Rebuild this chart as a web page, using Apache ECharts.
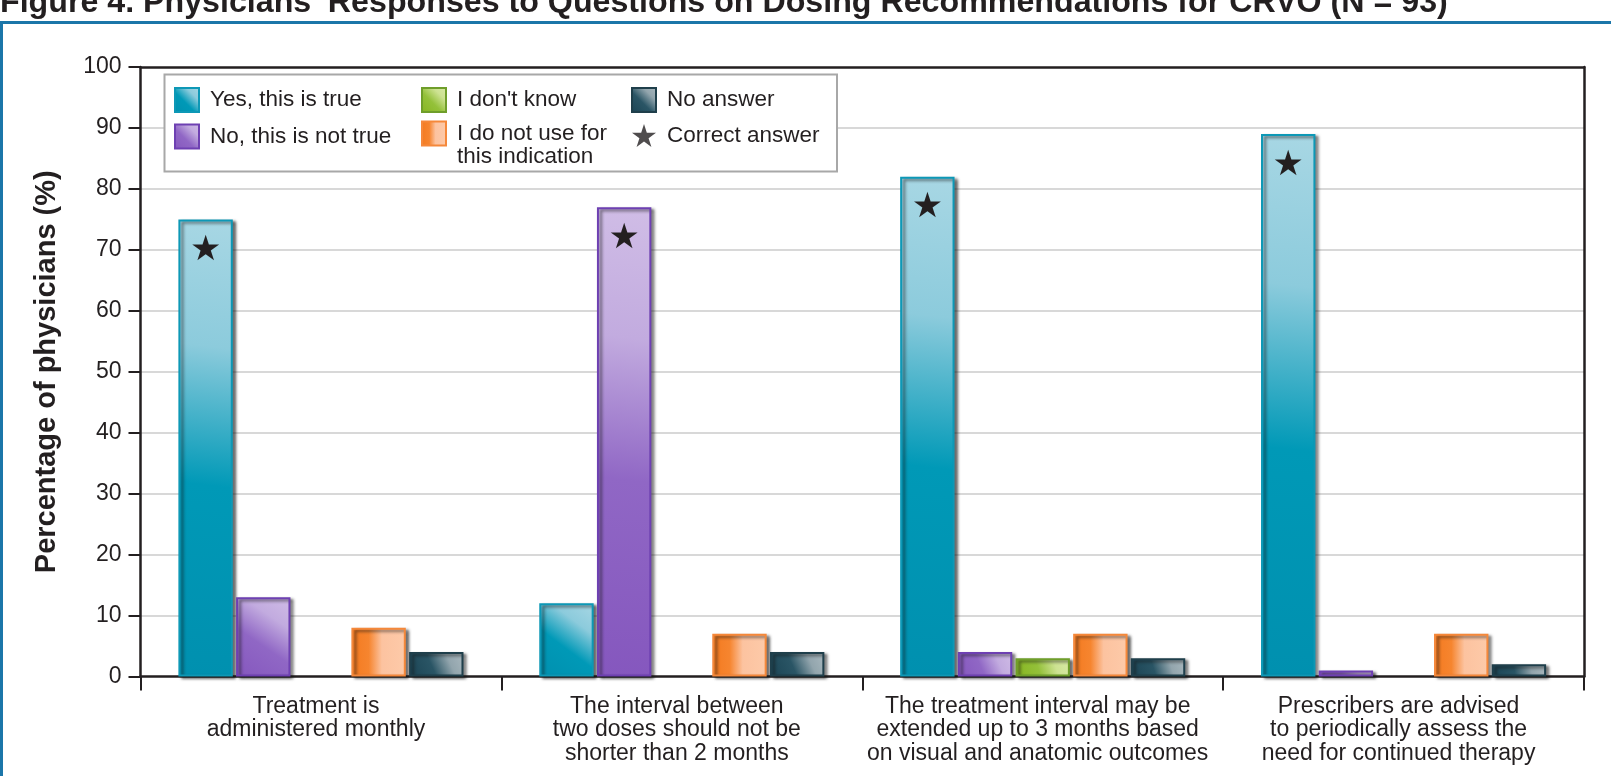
<!DOCTYPE html>
<html>
<head>
<meta charset="utf-8">
<title>Physicians' Responses to Questions on Dosing Recommendations for CRVO</title>
<script src="https://cdn.jsdelivr.net/npm/echarts@6/dist/echarts.min.js"></script>
<style>
  html, body { margin: 0; padding: 0; background: #ffffff; }
  #chart { width: 1611px; height: 776px; }
</style>
</head>
<body>
<div id="chart"></div>
<script>
// Survey statements (x categories)
const categories = [
  'Treatment is\nadministered monthly',
  'The interval between\ntwo doses should not be\nshorter than 2 months',
  'The treatment interval may be\nextended up to 3 months based\non visual and anatomic outcomes',
  'Prescribers are advised\nto periodically assess the\nneed for continued therapy'
];

// Percentage of physicians giving each response (null = no bar)
const yesTrue  = [75, 12, 82, 89];
const notTrue  = [13, 77, 4, 1];
const dontKnow = [null, null, 3, null];
const notUsed  = [8, 7, 7, 7];
const noAnswer = [4, 4, 3, 2];

// Which response is the correct one for each statement
const correctAnswer = ['yes', 'no', 'yes', 'yes'];

// Y axis ticks
const yTicks = { min: 0, max: 100, step: 10 };

const TEXT = '#231f20';
const FONT = '"Liberation Sans", Arial, Helvetica, sans-serif';
const STAR = 'path://M50 0 L61.2 34.5 L97.6 34.5 L68.2 55.9 L79.4 90.5 L50 69.1 L20.6 90.5 L31.8 55.9 L2.4 34.5 L38.8 34.5 Z';

function diag(c0, c1, c2, c3) {
  return new echarts.graphic.LinearGradient(0, 1, 1, 0, [
    { offset: 0, color: c0 }, { offset: 0.42, color: c1 },
    { offset: 0.72, color: c2 }, { offset: 1, color: c3 }
  ]);
}

const NOT_USED_NAME = 'I do not use for\nthis indication';

const responses = [
  { key: 'yes', name: 'Yes, this is true', values: yesTrue,
    fill: diag('#0090af', '#0099b7', '#8ccbdc', '#a8d7e4'), border: '#0d98b6' },
  { key: 'no', name: 'No, this is not true', values: notTrue,
    fill: diag('#8557be', '#9067c5', '#c2abdf', '#d0bde6'), border: '#6e40b2' },
  { key: 'dk', name: "I don't know", values: dontKnow,
    fill: diag('#86b520', '#94c13a', '#cde292', '#d9e9a6'), border: '#6f9e2a' },
  { key: 'nu', name: NOT_USED_NAME, values: notUsed,
    fill: new echarts.graphic.LinearGradient(0, 0, 1, 0, [
      { offset: 0, color: '#f47a20' }, { offset: 0.32, color: '#f6852f' },
      { offset: 0.56, color: '#fcc3a0' }, { offset: 1, color: '#fdcaa9' }
    ]), border: '#f5883a' },
  { key: 'na', name: 'No answer', values: noAnswer,
    fill: diag('#1b4454', '#2a5565', '#92a5ad', '#aab8be'), border: '#1f3f4b' }
];

const barSeries = responses.map(r => ({
  name: r.name,
  type: 'bar',
  barCategoryGap: '21%',
  barGap: '6%',
  itemStyle: {
    color: r.fill,
    borderColor: r.border,
    borderWidth: 2,
    shadowColor: 'rgba(20,20,20,0.6)',
    shadowBlur: 3,
    shadowOffsetX: 3,
    shadowOffsetY: 2
  },
  data: r.values.map((v, i) => ({
    value: v,
    label: {
      show: correctAnswer[i] === r.key,
      formatter: '\u2605',
      position: 'insideTop',
      distance: 14,
      color: TEXT,
      fontSize: 35,
      fontFamily: '"DejaVu Sans", sans-serif'
    }
  }))
}));

// Legend-only entry for the star marker
const starSeries = {
  name: 'Correct answer',
  type: 'scatter',
  symbol: STAR,
  itemStyle: { color: TEXT },
  data: []
};

function legendCol(left, top, items, extra) {
  return Object.assign({
    orient: 'vertical',
    left: left,
    top: top,
    padding: 0,
    itemWidth: 24,
    itemHeight: 24,
    itemGap: 10.5,
    selectedMode: false,
    icon: 'rect',
    textStyle: { color: TEXT, fontSize: 22.5, fontFamily: FONT, lineHeight: 24, padding: [0, 0, 0, 6] },
    data: items
  }, extra || {});
}

const chart = echarts.init(document.getElementById('chart'), null, { renderer: 'canvas' });

chart.setOption({
  backgroundColor: '#ffffff',
  animation: false,
  textStyle: { fontFamily: FONT },
  graphic: [
    {
      type: 'text', z: 5,
      style: {
        text: "Figure 4. Physicians' Responses to Questions on Dosing Recommendations for CRVO (N = 93)",
        x: 0, y: 3, verticalAlign: 'middle',
        fontSize: 32.2, fontWeight: 'bold', fontFamily: FONT, fill: TEXT
      }
    },
    {
      type: 'rect', z: 0,
      shape: { x: 1.5, y: 22.5, width: 1700, height: 900 },
      style: { fill: null, stroke: '#1b76a9', lineWidth: 3 }
    },
    {
      type: 'rect', z: 1,
      shape: { x: 164.5, y: 74.5, width: 672.5, height: 97 },
      style: { fill: '#ffffff', stroke: '#a8a8a8', lineWidth: 2 }
    }
  ],
  legend: [
    legendCol(174, 87, [{ name: 'Yes, this is true' }, { name: 'No, this is not true' }]),
    legendCol(421, 87, [{ name: "I don't know" }]),
    // two-line entry: a blank leading line keeps the icon level with the first text line
    legendCol(421, 99, [{ name: NOT_USED_NAME }], {
      formatter: name => ' \n' + name,
      textStyle: { color: TEXT, fontSize: 22.5, fontFamily: FONT, lineHeight: 23, padding: [0, 0, 0, 6] }
    }),
    legendCol(631, 87, [{ name: 'No answer' }, { name: 'Correct answer', icon: STAR }])
  ],
  grid: {
    left: 140.5, right: 27, top: 67, bottom: 99.5,
    show: false
  },
  xAxis: [
    {
      type: 'category',
      data: categories,
      axisLine: { lineStyle: { color: TEXT, width: 2.5 } },
      axisTick: { show: true, length: 14, lineStyle: { color: TEXT, width: 2 } },
      axisLabel: {
        interval: 0, margin: 18, color: TEXT, fontSize: 23, lineHeight: 23.5, fontFamily: FONT,
        padding: [0, 10, 0, 0]
      },
      splitLine: { show: false }
    },
    {
      // top frame line
      type: 'category', position: 'top',
      data: categories,
      axisLine: { onZero: false, lineStyle: { color: TEXT, width: 2.5 } },
      axisTick: { show: false }, axisLabel: { show: false }, splitLine: { show: false }
    }
  ],
  yAxis: [
    {
      type: 'value',
      min: yTicks.min, max: yTicks.max, interval: yTicks.step,
      name: 'Percentage of physicians (%)',
      nameLocation: 'middle',
      nameGap: 79,
      nameTextStyle: { color: TEXT, fontSize: 29, fontWeight: 'bold', fontFamily: FONT },
      axisLine: { show: true, lineStyle: { color: TEXT, width: 2.5 } },
      axisTick: { show: true, length: 12, lineStyle: { color: TEXT, width: 2 } },
      axisLabel: { margin: 19, color: TEXT, fontSize: 23, fontFamily: FONT },
      splitLine: { show: true, showMinLine: false, showMaxLine: false, lineStyle: { color: '#d8d8d8', width: 2 } }
    },
    {
      // right frame line
      type: 'value', position: 'right',
      min: yTicks.min, max: yTicks.max, interval: yTicks.step,
      axisLine: { show: true, onZero: false, lineStyle: { color: TEXT, width: 2.5 } },
      axisTick: { show: false }, axisLabel: { show: false }, splitLine: { show: false }
    }
  ],
  series: barSeries.concat([starSeries])
});
</script>
</body>
</html>
